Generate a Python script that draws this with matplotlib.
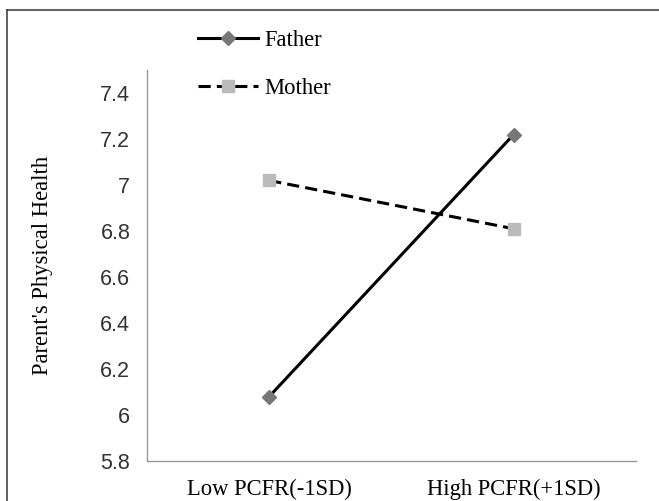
import matplotlib
matplotlib.use("Agg")
from matplotlib import pyplot as plt
from matplotlib.lines import Line2D

categories = ["Low PCFR(-1SD)", "High PCFR(+1SD)"]
father = [6.08, 7.22]
mother = [7.02, 6.81]
y_ticks = [5.8, 6.0, 6.2, 6.4, 6.6, 6.8, 7.0, 7.2, 7.4]
y_tick_labels = ["5.8", "6", "6.2", "6.4", "6.6", "6.8", "7", "7.2", "7.4"]

SERIF = "Liberation Serif"
SANS = "Liberation Sans"

fig = plt.figure(figsize=(6.59, 5.01), dpi=100)
ax = fig.add_axes([0.223, 0.080, 0.742, 0.780])

x = range(len(categories))
ax.plot(x, father, color="black", linewidth=2.2, marker="D", markersize=7,
        markerfacecolor="#777777", markeredgecolor="#777777", label="Father", zorder=3)
ax.plot(x, mother, color="black", linewidth=2.2, linestyle=(0, (4, 2)), marker="s",
        markersize=8.5, markerfacecolor="#bbbbbb", markeredgecolor="#bbbbbb", label="Mother", zorder=3)

ax.set_xlim(-0.5, 1.5)
ax.set_ylim(5.8, 7.5)
ax.set_xticks(list(x))
ax.set_xticklabels(categories, fontfamily=SERIF, fontsize=16.3)
ax.set_yticks(y_ticks)
ax.set_yticklabels(y_tick_labels, fontfamily=SANS, fontsize=15.5, color="#333333")
ax.tick_params(length=0, pad=12)
ax.tick_params(axis="x", pad=13)
for side in ["top", "right"]:
    ax.spines[side].set_visible(False)
for side in ["left", "bottom"]:
    ax.spines[side].set_color("#999999")
    ax.spines[side].set_linewidth(1.0)

ax.set_ylabel("Parent's Physical Health", fontfamily=SERIF, fontsize=16.3, labelpad=34)

leg = fig.legend(loc="upper left", bbox_to_anchor=(0.300, 0.940), frameon=False,
                 prop={"family": SERIF, "size": 16.3}, handlelength=2.65,
                 labelspacing=1.2, handletextpad=0.3, borderpad=0, borderaxespad=0)

# outer border (top and left only, as in the source)
fig.add_artist(Line2D([0.0106, 1.0], [0.980, 0.980], color="#666666", linewidth=1.5,
                      transform=fig.transFigure))
fig.add_artist(Line2D([0.0106, 0.0106], [0.0, 0.980], color="#444444", linewidth=1.2,
                      transform=fig.transFigure))

fig.savefig("out.png", dpi=100)
plt.close(fig)
